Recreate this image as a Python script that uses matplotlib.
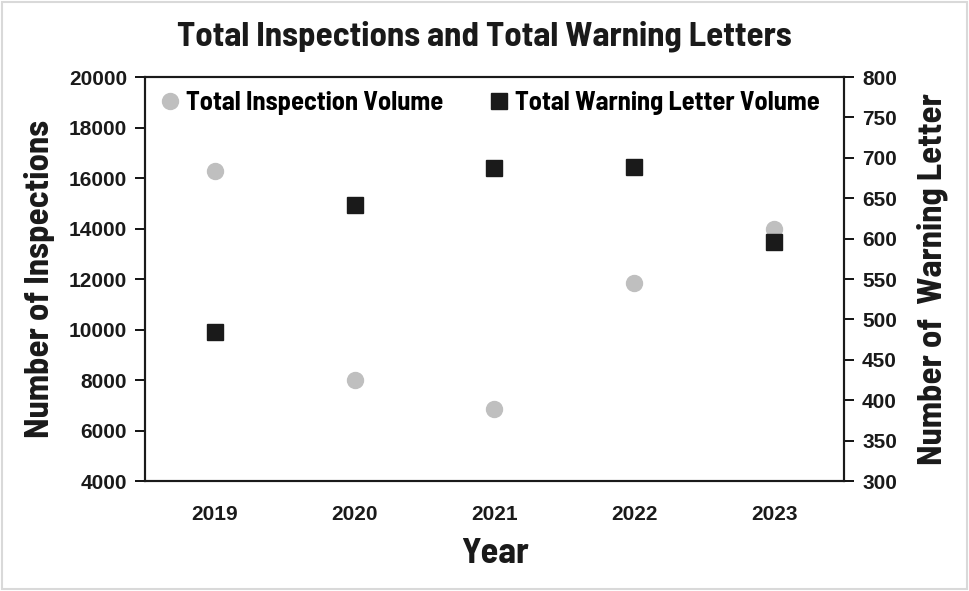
import matplotlib.pyplot as plt
from matplotlib.patches import Rectangle

years = ['2019', '2020', '2021', '2022', '2023']
inspections = [16290, 7990, 6850, 11830, 13990]
warning_letters = [485, 641, 687, 689, 596]

head_font = ['Barlow Semi Condensed', 'DejaVu Sans']
tick_font = 'Liberation Sans'
ink = '#1a1a1a'

fig = plt.figure(figsize=(9.69, 5.91), dpi=100)
ax = fig.add_axes([0.1496, 0.1861, 0.7214, 0.6836])
ax2 = ax.twinx()

x = list(range(len(years)))
h1, = ax.plot(x, inspections, 'o', color='#bfbfbf', markersize=11.5, label='Total Inspection Volume')
h2, = ax2.plot(x, warning_letters, 's', color=ink, markersize=11, label='Total Warning Letter Volume')

ax.set_xlim(-0.5, 4.5)
ax.set_ylim(4000, 20000)
ax.set_yticks(range(4000, 20001, 2000))
ax2.set_ylim(300, 800)
ax2.set_yticks(range(300, 801, 50))
ax.set_xticks(x)
ax.set_xticklabels(years)

for a in (ax, ax2):
    for s in a.spines.values():
        s.set_linewidth(1.5)
        s.set_color(ink)
ax.tick_params(axis='x', length=0, pad=17)
ax.tick_params(axis='y', length=7, width=1.3, direction='out', pad=6)
ax2.tick_params(axis='y', length=7, width=1.3, direction='out', pad=6)
for lab in ax.get_xticklabels() + ax.get_yticklabels() + ax2.get_yticklabels():
    lab.set_fontfamily(tick_font)
    lab.set_fontweight('bold')
    lab.set_fontsize(15)
    lab.set_color(ink)

ax.set_xlabel('Year', fontfamily=head_font, fontweight='bold', fontsize=26, color=ink, labelpad=10)
ax.set_ylabel('Number of Inspections', fontfamily=head_font, fontweight='bold', fontsize=25, color=ink, labelpad=10)
ax2.set_ylabel('Number of  Warning Letter', fontfamily=head_font, fontweight='bold', fontsize=25, color=ink, labelpad=14)
fig.suptitle('Total Inspections and Total Warning Letters', fontfamily=head_font, fontweight='bold',
             fontsize=25, color=ink, y=0.965)

ax.legend(handles=[h1, h2], loc='upper left', ncol=2, frameon=False, bbox_to_anchor=(-0.009, 1.01),
          prop={'family': head_font, 'weight': 'bold', 'size': 19}, handlelength=1.0, handletextpad=0.09,
          columnspacing=1.63, markerscale=1.0, borderaxespad=0.3)

fig.patches.append(Rectangle((0.002, 0.003), 0.996, 0.994, transform=fig.transFigure,
                             fill=False, edgecolor='#d9d9d9', linewidth=1.5))

fig.savefig('out.png', dpi=100)
